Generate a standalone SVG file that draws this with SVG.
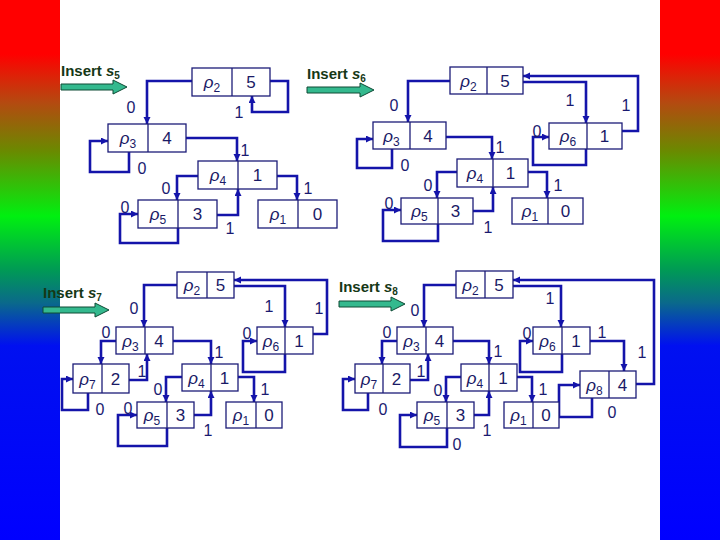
<svg xmlns="http://www.w3.org/2000/svg" width="720" height="540" viewBox="0 0 720 540">
<defs>
<linearGradient id="bar" x1="0" y1="0" x2="0" y2="1">
<stop offset="0" stop-color="#ff0000"/>
<stop offset="0.1" stop-color="#ff0000"/>
<stop offset="0.19" stop-color="#b44a10"/>
<stop offset="0.28" stop-color="#6a8a00"/>
<stop offset="0.40" stop-color="#00f010"/>
<stop offset="0.50" stop-color="#009a55"/>
<stop offset="0.56" stop-color="#0a6a8a"/>
<stop offset="0.64" stop-color="#0010f0"/>
<stop offset="1" stop-color="#0000ff"/>
</linearGradient>
<marker id="ah" markerUnits="userSpaceOnUse" markerWidth="8" markerHeight="8" refX="7" refY="3.5" orient="auto">
<path d="M0,0 L7,3.5 L0,7 z" fill="#1414aa"/>
</marker>
<style>
.bx{fill:#fff;stroke:#1c1c78;stroke-width:1.3}
.dv{stroke:#1c1c78;stroke-width:1.3}
.t{font-family:"Liberation Sans",Arial,sans-serif;font-size:17px;fill:#1a1a66;text-anchor:middle}
.r{font-style:italic}
.sb{font-size:12px;font-style:normal}
.lb{font-family:"Liberation Sans",Arial,sans-serif;font-size:16px;fill:#1a1a70;text-anchor:middle}
.cn{fill:none;stroke:#1414aa;stroke-width:2.6;marker-end:url(#ah)}
.ins{font-family:"Liberation Sans",Arial,sans-serif;font-weight:bold;font-size:15px;fill:#163816}
.ia{fill:#34b98e;stroke:#0e4a34;stroke-width:1}
</style>
</defs>
<rect x="0" y="0" width="720" height="540" fill="#ffffff"/>
<rect x="0" y="0" width="60" height="540" fill="url(#bar)"/>
<rect x="660" y="0" width="60" height="540" fill="url(#bar)"/>

<!-- Insert headings -->
<g id="insert-s5">
<text class="ins" x="61" y="76">Insert <tspan font-style="italic">s</tspan><tspan font-size="10" dy="3">5</tspan></text>
<polygon class="ia" points="61,84 113,84 113,80 127,87 113,94 113,90 61,90"/>
</g>
<g id="insert-s6">
<text class="ins" x="307" y="79">Insert <tspan font-style="italic">s</tspan><tspan font-size="10" dy="3">6</tspan></text>
<polygon class="ia" points="307,87 360,87 360,83 374,90 360,97 360,93 307,93"/>
</g>
<g id="insert-s7">
<text class="ins" x="43" y="298">Insert <tspan font-style="italic">s</tspan><tspan font-size="10" dy="3">7</tspan></text>
<polygon class="ia" points="43,307 95,307 95,303 109,310 95,317 95,313 43,313"/>
</g>
<g id="insert-s8">
<text class="ins" x="339" y="292">Insert <tspan font-style="italic">s</tspan><tspan font-size="10" dy="3">8</tspan></text>
<polygon class="ia" points="339,301 391,301 391,297 405,304 391,311 391,307 339,307"/>
</g>

<!-- Connectors -->
<g id="connectors">
<!-- panel 1 -->
<path class="cn" d="M192,81 H147 V124"/>
<path class="cn" d="M270,81 H288 V112 H252 V96"/>
<path class="cn" d="M129,152 V172 H90 V141 H108"/>
<path class="cn" d="M186,138 H237 V161"/>
<path class="cn" d="M198,176 H177 V200"/>
<path class="cn" d="M277,176 H297 V200"/>
<path class="cn" d="M217,215 H238 V189"/>
<path class="cn" d="M178,228 V243 H120 V214 H138"/>
<!-- panel 2 -->
<path class="cn" d="M450,81 H408 V122"/>
<path class="cn" d="M446,137 H492 V159"/>
<path class="cn" d="M392,149 V168 H357 V139 H373"/>
<path class="cn" d="M457,172 H437 V198"/>
<path class="cn" d="M528,172 H547 V198"/>
<path class="cn" d="M473,211 H493 V187"/>
<path class="cn" d="M438,224 V241 H383 V210 H401"/>
<path class="cn" d="M523,82 H586 V123"/>
<path class="cn" d="M622,131 H638 V76 H523"/>
<path class="cn" d="M586,149 V165 H533 V137 H549"/>
<!-- panel 3 -->
<path class="cn" d="M177,285 H144 V327"/>
<path class="cn" d="M234,286 H285 V327"/>
<path class="cn" d="M313,334 H327 V280 H234"/>
<path class="cn" d="M285,354 V372 H243 V341 H257"/>
<path class="cn" d="M116,341 H101 V364"/>
<path class="cn" d="M173,341 H211 V364"/>
<path class="cn" d="M129,380 H147 V354"/>
<path class="cn" d="M88,393 V410 H62 V379 H73"/>
<path class="cn" d="M182,377 H166 V402"/>
<path class="cn" d="M238,377 H254 V402"/>
<path class="cn" d="M194,415 H211 V391"/>
<path class="cn" d="M167,428 V446 H118 V415 H137"/>
<!-- panel 4 -->
<path class="cn" d="M456,285 H424 V327"/>
<path class="cn" d="M513,286 H561 V327"/>
<path class="cn" d="M636,384 H654 V280 H513"/>
<path class="cn" d="M590,341 H624 V371"/>
<path class="cn" d="M562,354 V372 H520 V341 H533"/>
<path class="cn" d="M592,398 V417 H559 V385 H580"/>
<path class="cn" d="M397,341 H382 V364"/>
<path class="cn" d="M453,341 H489 V364"/>
<path class="cn" d="M410,380 H428 V354"/>
<path class="cn" d="M368,393 V410 H343 V379 H355"/>
<path class="cn" d="M461,377 H446 V402"/>
<path class="cn" d="M517,377 H532 V402"/>
<path class="cn" d="M474,415 H489 V391"/>
<path class="cn" d="M447,428 V447 H400 V415 H417"/>
</g>

<!-- Edge labels -->
<g id="labels">
<text class="lb" x="131" y="113">0</text>
<text class="lb" x="239" y="118">1</text>
<text class="lb" x="142" y="174">0</text>
<text class="lb" x="245" y="156">1</text>
<text class="lb" x="166" y="194">0</text>
<text class="lb" x="308" y="194">1</text>
<text class="lb" x="230" y="234">1</text>
<text class="lb" x="125" y="213">0</text>

<text class="lb" x="394" y="111">0</text>
<text class="lb" x="405" y="171">0</text>
<text class="lb" x="500" y="153">1</text>
<text class="lb" x="428" y="191">0</text>
<text class="lb" x="558" y="191">1</text>
<text class="lb" x="488" y="233">1</text>
<text class="lb" x="389" y="209">0</text>
<text class="lb" x="570" y="106">1</text>
<text class="lb" x="626" y="111">1</text>
<text class="lb" x="537" y="137">0</text>

<text class="lb" x="134" y="314">0</text>
<text class="lb" x="269" y="312">1</text>
<text class="lb" x="319" y="314">1</text>
<text class="lb" x="247" y="339">0</text>
<text class="lb" x="106" y="338">0</text>
<text class="lb" x="219" y="358">1</text>
<text class="lb" x="142" y="377">1</text>
<text class="lb" x="100" y="415">0</text>
<text class="lb" x="158" y="395">0</text>
<text class="lb" x="265" y="395">1</text>
<text class="lb" x="208" y="436">1</text>
<text class="lb" x="128" y="414">0</text>

<text class="lb" x="415" y="316">0</text>
<text class="lb" x="550" y="304">1</text>
<text class="lb" x="642" y="358">1</text>
<text class="lb" x="602" y="338">1</text>
<text class="lb" x="527" y="339">0</text>
<text class="lb" x="612" y="418">0</text>
<text class="lb" x="387" y="338">0</text>
<text class="lb" x="498" y="357">1</text>
<text class="lb" x="421" y="377">1</text>
<text class="lb" x="383" y="415">0</text>
<text class="lb" x="438" y="396">0</text>
<text class="lb" x="543" y="395">1</text>
<text class="lb" x="487" y="436">1</text>
<text class="lb" x="457" y="450">0</text>
</g>

<!-- Panel 1 nodes -->
<g id="a-p2"><rect class="bx" x="192" y="68" width="78" height="28"/><line class="dv" x1="232" y1="68" x2="232" y2="96"/><text class="t" x="212" y="88"><tspan class="r">ρ</tspan><tspan class="sb" dy="4">2</tspan></text><text class="t" x="251" y="88">5</text></g>
<g id="a-p3"><rect class="bx" x="108" y="124" width="78" height="28"/><line class="dv" x1="148" y1="124" x2="148" y2="152"/><text class="t" x="128" y="144"><tspan class="r">ρ</tspan><tspan class="sb" dy="4">3</tspan></text><text class="t" x="167" y="144">4</text></g>
<g id="a-p4"><rect class="bx" x="198" y="161" width="79" height="28"/><line class="dv" x1="238" y1="161" x2="238" y2="189"/><text class="t" x="218" y="181"><tspan class="r">ρ</tspan><tspan class="sb" dy="4">4</tspan></text><text class="t" x="257.5" y="181">1</text></g>
<g id="a-p5"><rect class="bx" x="138" y="200" width="79" height="28"/><line class="dv" x1="178" y1="200" x2="178" y2="228"/><text class="t" x="158" y="220"><tspan class="r">ρ</tspan><tspan class="sb" dy="4">5</tspan></text><text class="t" x="197.5" y="220">3</text></g>
<g id="a-p1"><rect class="bx" x="258" y="200" width="79" height="28"/><line class="dv" x1="298" y1="200" x2="298" y2="228"/><text class="t" x="278" y="220"><tspan class="r">ρ</tspan><tspan class="sb" dy="4">1</tspan></text><text class="t" x="317.5" y="220">0</text></g>

<!-- Panel 2 nodes -->
<g id="b-p2"><rect class="bx" x="450" y="67" width="73" height="27"/><line class="dv" x1="487" y1="67" x2="487" y2="94"/><text class="t" x="468.5" y="86.5"><tspan class="r">ρ</tspan><tspan class="sb" dy="4">2</tspan></text><text class="t" x="505" y="86.5">5</text></g>
<g id="b-p3"><rect class="bx" x="373" y="122" width="73" height="27"/><line class="dv" x1="410" y1="122" x2="410" y2="149"/><text class="t" x="391.5" y="141.5"><tspan class="r">ρ</tspan><tspan class="sb" dy="4">3</tspan></text><text class="t" x="428" y="141.5">4</text></g>
<g id="b-p4"><rect class="bx" x="457" y="159" width="71" height="28"/><line class="dv" x1="493" y1="159" x2="493" y2="187"/><text class="t" x="475" y="179"><tspan class="r">ρ</tspan><tspan class="sb" dy="4">4</tspan></text><text class="t" x="510.5" y="179">1</text></g>
<g id="b-p5"><rect class="bx" x="401" y="198" width="72" height="26"/><line class="dv" x1="438" y1="198" x2="438" y2="224"/><text class="t" x="419.5" y="217"><tspan class="r">ρ</tspan><tspan class="sb" dy="4">5</tspan></text><text class="t" x="455.5" y="217">3</text></g>
<g id="b-p1"><rect class="bx" x="512" y="198" width="71" height="26"/><line class="dv" x1="548" y1="198" x2="548" y2="224"/><text class="t" x="530" y="217"><tspan class="r">ρ</tspan><tspan class="sb" dy="4">1</tspan></text><text class="t" x="565.5" y="217">0</text></g>
<g id="b-p6"><rect class="bx" x="549" y="123" width="73" height="26"/><line class="dv" x1="587" y1="123" x2="587" y2="149"/><text class="t" x="568" y="142"><tspan class="r">ρ</tspan><tspan class="sb" dy="4">6</tspan></text><text class="t" x="604.5" y="142">1</text></g>

<!-- Panel 3 nodes -->
<g id="c-p2"><rect class="bx" x="177" y="272" width="57" height="26"/><line class="dv" x1="207" y1="272" x2="207" y2="298"/><text class="t" x="192" y="291"><tspan class="r">ρ</tspan><tspan class="sb" dy="4">2</tspan></text><text class="t" x="220.5" y="291">5</text></g>
<g id="c-p6"><rect class="bx" x="257" y="327" width="56" height="27"/><line class="dv" x1="285" y1="327" x2="285" y2="354"/><text class="t" x="271" y="346.5"><tspan class="r">ρ</tspan><tspan class="sb" dy="4">6</tspan></text><text class="t" x="299" y="346.5">1</text></g>
<g id="c-p3"><rect class="bx" x="116" y="327" width="57" height="27"/><line class="dv" x1="145" y1="327" x2="145" y2="354"/><text class="t" x="130.5" y="346.5"><tspan class="r">ρ</tspan><tspan class="sb" dy="4">3</tspan></text><text class="t" x="159" y="346.5">4</text></g>
<g id="c-p7"><rect class="bx" x="73" y="364" width="56" height="29"/><line class="dv" x1="102" y1="364" x2="102" y2="393"/><text class="t" x="87.5" y="384.5"><tspan class="r">ρ</tspan><tspan class="sb" dy="4">7</tspan></text><text class="t" x="115.5" y="384.5">2</text></g>
<g id="c-p4"><rect class="bx" x="182" y="364" width="56" height="27"/><line class="dv" x1="211" y1="364" x2="211" y2="391"/><text class="t" x="196.5" y="383.5"><tspan class="r">ρ</tspan><tspan class="sb" dy="4">4</tspan></text><text class="t" x="224.5" y="383.5">1</text></g>
<g id="c-p5"><rect class="bx" x="137" y="402" width="57" height="26"/><line class="dv" x1="167" y1="402" x2="167" y2="428"/><text class="t" x="152" y="421"><tspan class="r">ρ</tspan><tspan class="sb" dy="4">5</tspan></text><text class="t" x="180.5" y="421">3</text></g>
<g id="c-p1"><rect class="bx" x="226" y="402" width="56" height="26"/><line class="dv" x1="256" y1="402" x2="256" y2="428"/><text class="t" x="241" y="421"><tspan class="r">ρ</tspan><tspan class="sb" dy="4">1</tspan></text><text class="t" x="269" y="421">0</text></g>

<!-- Panel 4 nodes -->
<g id="d-p2"><rect class="bx" x="456" y="271" width="57" height="27"/><line class="dv" x1="485" y1="271" x2="485" y2="298"/><text class="t" x="470.5" y="290.5"><tspan class="r">ρ</tspan><tspan class="sb" dy="4">2</tspan></text><text class="t" x="499" y="290.5">5</text></g>
<g id="d-p6"><rect class="bx" x="533" y="327" width="57" height="27"/><line class="dv" x1="562" y1="327" x2="562" y2="354"/><text class="t" x="547.5" y="346.5"><tspan class="r">ρ</tspan><tspan class="sb" dy="4">6</tspan></text><text class="t" x="576" y="346.5">1</text></g>
<g id="d-p8"><rect class="bx" x="580" y="371" width="56" height="27"/><line class="dv" x1="609" y1="371" x2="609" y2="398"/><text class="t" x="594.5" y="390.5"><tspan class="r">ρ</tspan><tspan class="sb" dy="4">8</tspan></text><text class="t" x="622.5" y="390.5">4</text></g>
<g id="d-p3"><rect class="bx" x="397" y="327" width="56" height="27"/><line class="dv" x1="426" y1="327" x2="426" y2="354"/><text class="t" x="411.5" y="346.5"><tspan class="r">ρ</tspan><tspan class="sb" dy="4">3</tspan></text><text class="t" x="439.5" y="346.5">4</text></g>
<g id="d-p7"><rect class="bx" x="355" y="364" width="55" height="29"/><line class="dv" x1="383" y1="364" x2="383" y2="393"/><text class="t" x="369" y="384.5"><tspan class="r">ρ</tspan><tspan class="sb" dy="4">7</tspan></text><text class="t" x="396.5" y="384.5">2</text></g>
<g id="d-p4"><rect class="bx" x="461" y="364" width="56" height="27"/><line class="dv" x1="489" y1="364" x2="489" y2="391"/><text class="t" x="475" y="383.5"><tspan class="r">ρ</tspan><tspan class="sb" dy="4">4</tspan></text><text class="t" x="503" y="383.5">1</text></g>
<g id="d-p5"><rect class="bx" x="417" y="402" width="57" height="26"/><line class="dv" x1="447" y1="402" x2="447" y2="428"/><text class="t" x="432" y="421"><tspan class="r">ρ</tspan><tspan class="sb" dy="4">5</tspan></text><text class="t" x="460.5" y="421">3</text></g>
<g id="d-p1"><rect class="bx" x="504" y="402" width="55" height="26"/><line class="dv" x1="533" y1="402" x2="533" y2="428"/><text class="t" x="518.5" y="421"><tspan class="r">ρ</tspan><tspan class="sb" dy="4">1</tspan></text><text class="t" x="546" y="421">0</text></g>
</svg>
